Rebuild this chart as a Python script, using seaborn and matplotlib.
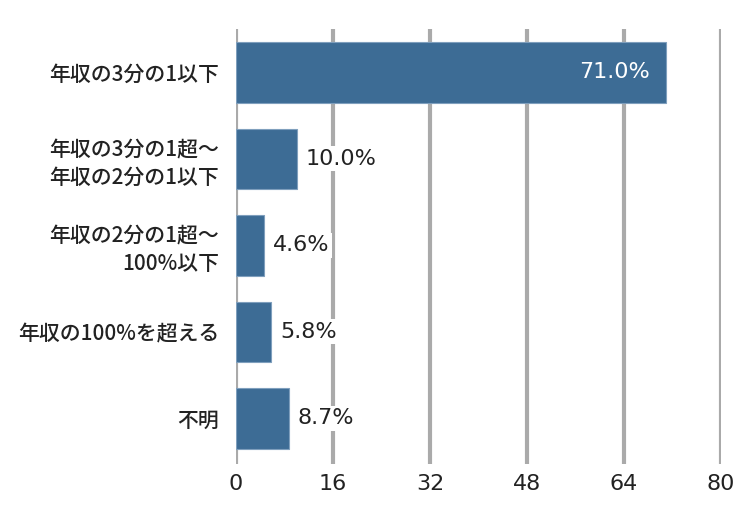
import matplotlib
matplotlib.use("Agg")
import matplotlib.pyplot as plt
import seaborn as sns
import pandas as pd

categories = [
    "年収の3分の1以下",
    "年収の3分の1超～\n年収の2分の1以下",
    "年収の2分の1超～\n100%以下",
    "年収の100%を超える",
    "不明",
]
values = [71.0, 10.0, 4.6, 5.8, 8.7]
xticks = [0, 16, 32, 48, 64, 80]

sns.set_theme(style="white")
plt.rcParams['font.family'] = ['Noto Sans CJK JP', 'DejaVu Sans']

num_font = ['DejaVu Sans', 'Noto Sans CJK JP']

df = pd.DataFrame({"cat": categories, "val": values})

fig = plt.figure(figsize=(7.5, 5.28), dpi=100)
ax = fig.add_axes([0.3147, 0.121, 0.6466, 0.824])

sns.barplot(data=df, x="val", y="cat", color="#3d6c95", saturation=1,
            width=0.7, edgecolor="#7f9fbd", linewidth=0.8, ax=ax, zorder=3)

ax.set_xlim(0, 80)
ax.set_ylim(4.53, -0.5)
ax.set_xticks(xticks)
ax.set_xticklabels([str(t) for t in xticks], fontsize=16, color="#222222",
                   family=num_font)
for x in xticks:
    ax.axvline(x, color="#aaaaaa", lw=3, zorder=1)
ax.set_xlabel("")
ax.set_ylabel("")
ax.tick_params(axis="both", length=0)
ax.tick_params(axis="x", pad=7)
ax.tick_params(axis="y", pad=12)
for lab in ax.get_yticklabels():
    lab.set_fontsize(15)
    lab.set_fontweight("medium")
    lab.set_color("#222222")
    lab.set_multialignment("right")
    lab.set_linespacing(1.32)
for s in ax.spines.values():
    s.set_visible(False)

for i, v in enumerate(values):
    txt = f"{v:.1f}%"
    if v > 40:
        ax.text(v - 2.8, i, txt, ha="right", va="center", fontsize=16,
                color="white", zorder=5, family=num_font)
    else:
        ax.text(v + 1.5, i, txt, ha="left", va="center", fontsize=16,
                color="#222222", zorder=5, family=num_font,
                bbox=dict(facecolor="white", edgecolor="none", pad=2))

fig.savefig("out.png", dpi=100)
